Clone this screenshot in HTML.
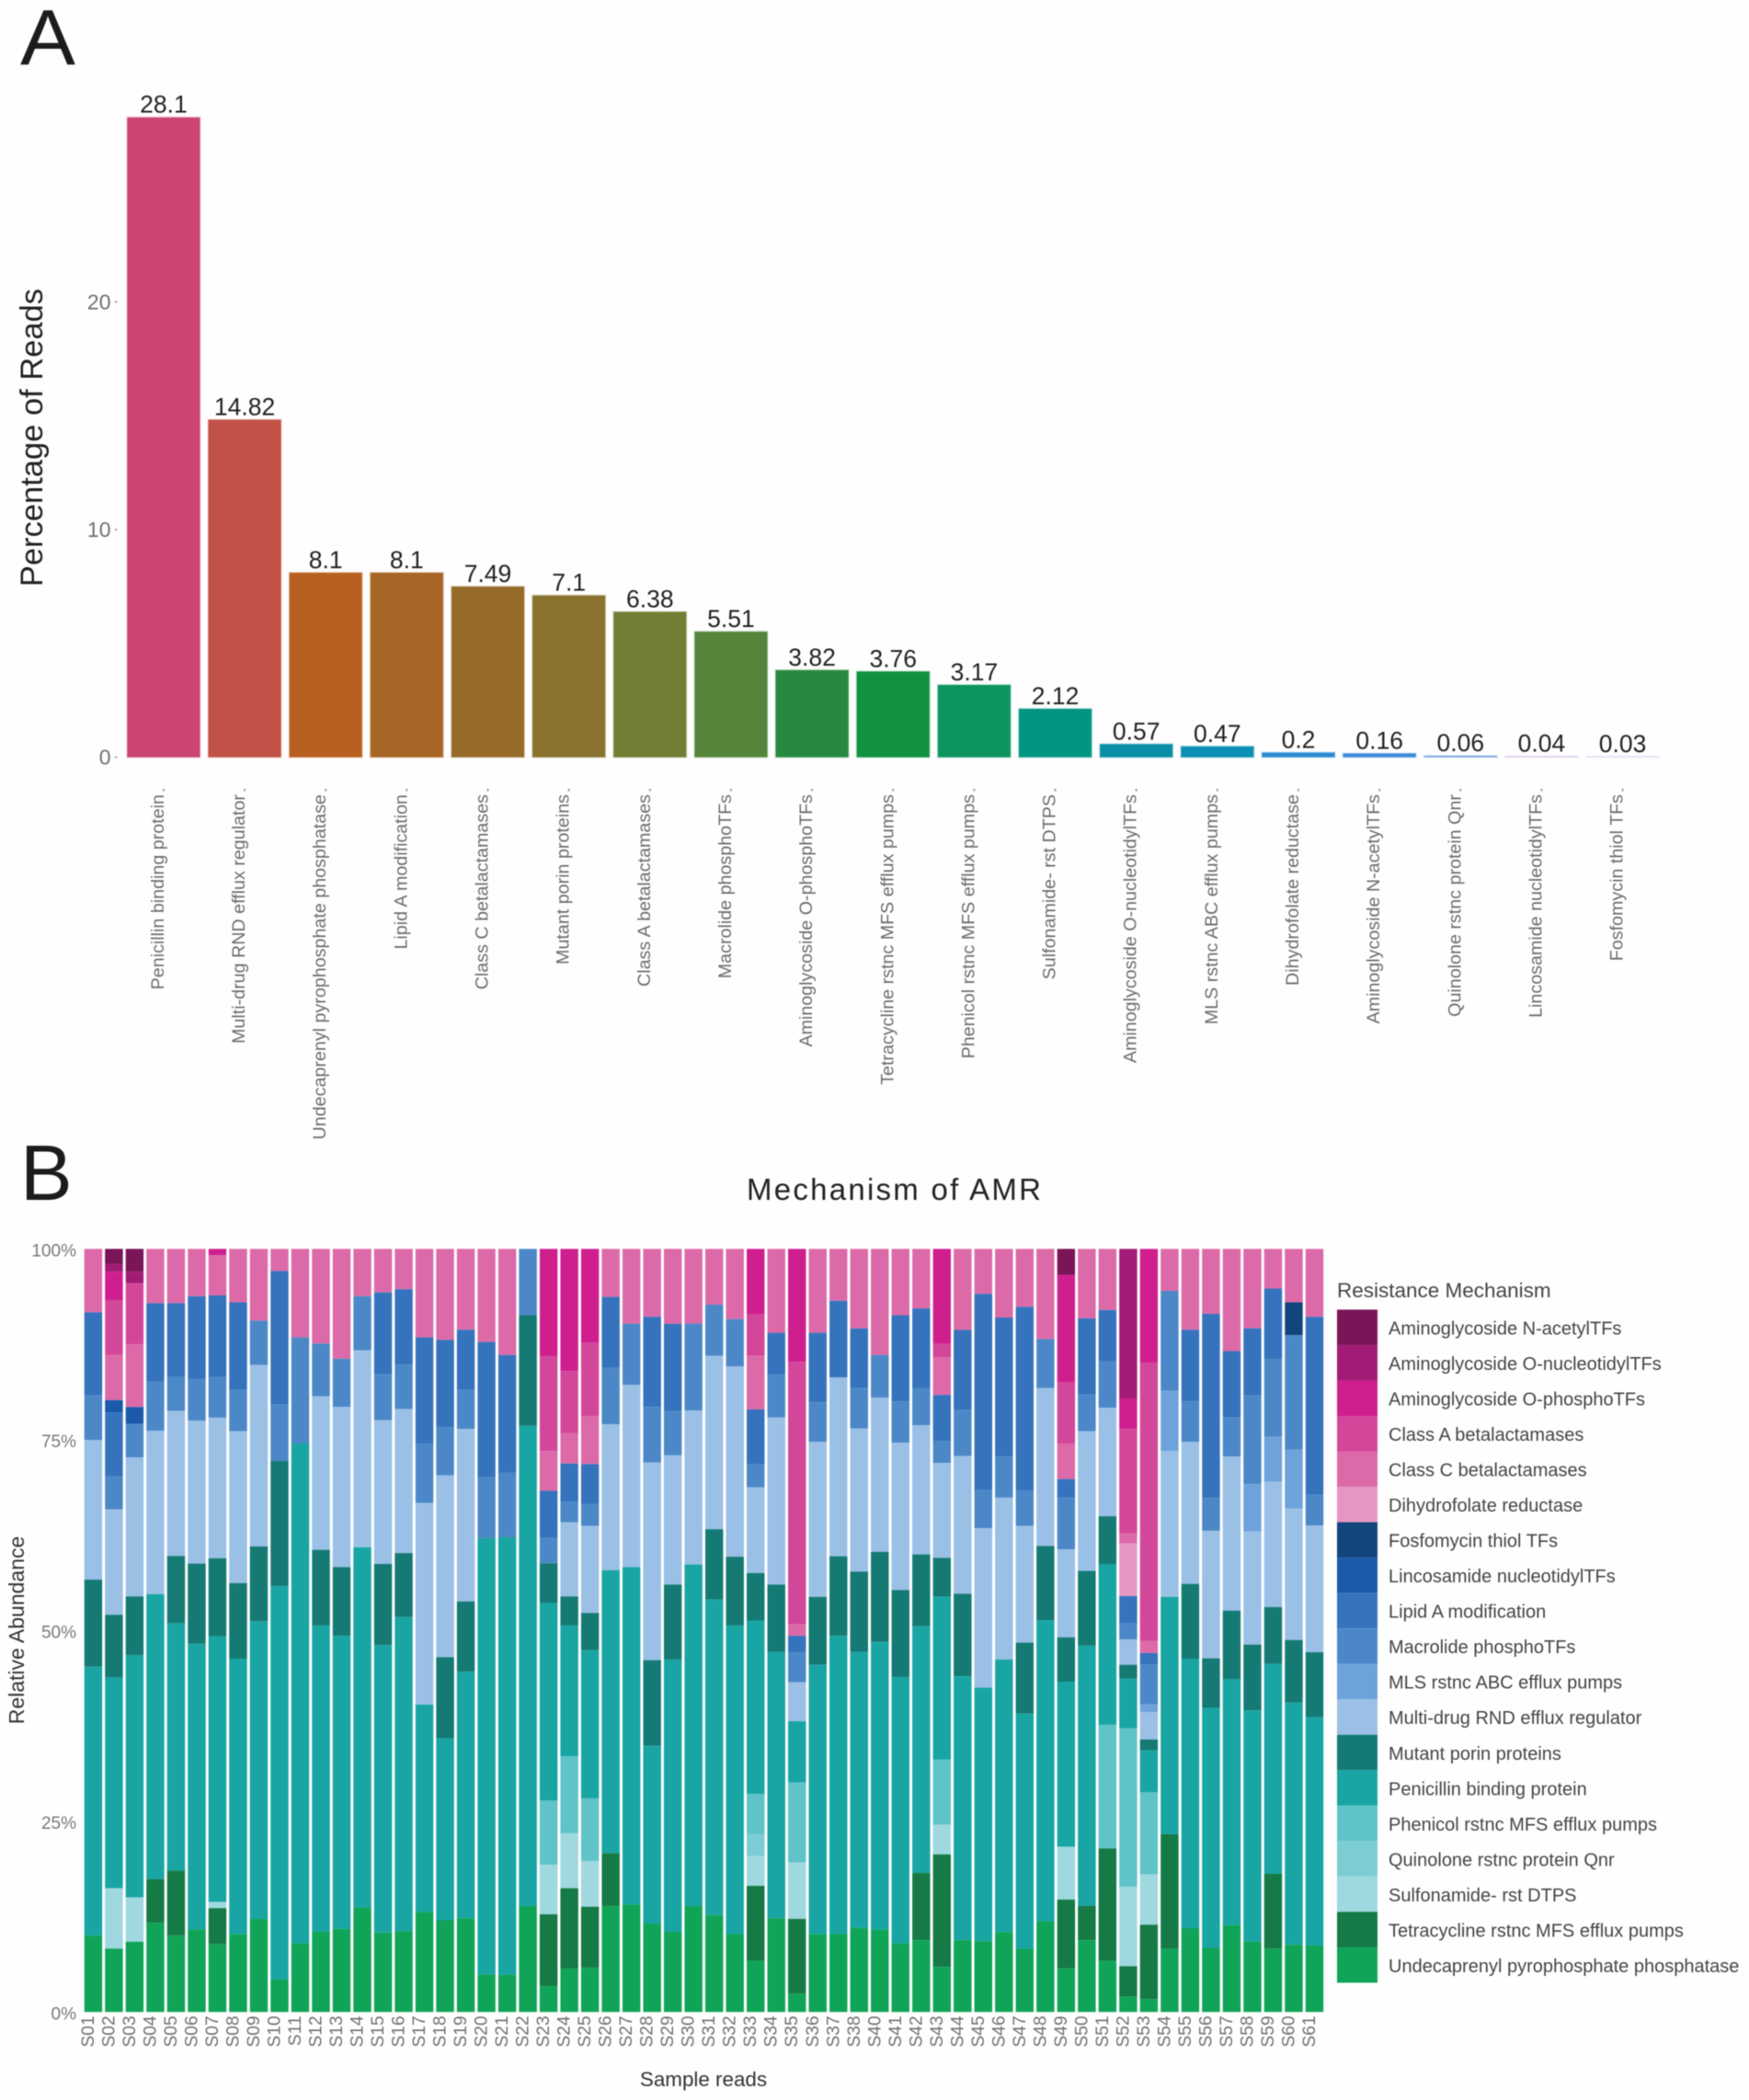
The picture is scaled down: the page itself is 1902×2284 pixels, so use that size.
<!DOCTYPE html>
<html lang="en">
<head>
<meta charset="utf-8">
<title>AMR mechanisms: read percentages and relative abundance</title>
<style>
  html, body { margin: 0; padding: 0; background: #fefefe; }
  body { width: 1902px; height: 2284px; overflow: hidden; }
  svg { display: block; font-family: "Liberation Sans", Arial, sans-serif; filter: blur(0.5px); }
</style>
</head>
<body>
<svg id="figure" xmlns="http://www.w3.org/2000/svg" width="1902" height="2284" viewBox="0 0 1902 2284">
  <rect x="0" y="0" width="1902" height="2284" fill="#fefefe"/>
  <text x="22" y="70" font-size="85" fill="#1c1c1c" textLength="60" lengthAdjust="spacingAndGlyphs">A</text>
  <text x="22" y="1305" font-size="85" fill="#1c1c1c">B</text>
  <text transform="translate(46,476) rotate(-90)" text-anchor="middle" font-size="34.5" fill="#222">Percentage of Reads</text>
  <text x="812" y="1305" font-size="33" fill="#222" textLength="320" lengthAdjust="spacing">Mechanism of AMR</text>
  <text transform="translate(26,1773) rotate(-90)" text-anchor="middle" font-size="23" fill="#333">Relative Abundance</text>
  <text x="765" y="2269" text-anchor="middle" font-size="22.4" fill="#333">Sample reads</text>
  <text x="1454" y="1411" font-size="22.5" fill="#444">Resistance Mechanism</text>
  <g id="panelA"></g>
  <g id="panelB"></g>
  <g id="legend"></g>
</svg>
<script>
// ---------- Panel A data ----------
const mechanismCategories = ["Penicillin binding protein","Multi-drug RND efflux regulator","Undecaprenyl pyrophosphate phosphatase","Lipid A modification","Class C betalactamases","Mutant porin proteins","Class A betalactamases","Macrolide phosphoTFs","Aminoglycoside O-phosphoTFs","Tetracycline rstnc MFS efflux pumps","Phenicol rstnc MFS efflux pumps","Sulfonamide- rst DTPS","Aminoglycoside O-nucleotidylTFs","MLS rstnc ABC efflux pumps","Dihydrofolate reductase","Aminoglycoside N-acetylTFs","Quinolone rstnc protein Qnr","Lincosamide nucleotidylTFs","Fosfomycin thiol TFs"];
const readPercentages = [28.1,14.82,8.1,8.1,7.49,7.1,6.38,5.51,3.82,3.76,3.17,2.12,0.57,0.47,0.2,0.16,0.06,0.04,0.03];
const barColors = ["#cb4570","#c25247","#b86022","#a86626","#966b2a","#89732e","#737d33","#55853a","#27883f","#11923f","#0d9560","#029582","#0a8ea5","#0a8fb5","#2b8bd0","#3b8ad5","#7aa5e0","#dcc8ee","#e3d0ee"];
const percentTicks = [0,10,20];

// ---------- Panel B data ----------
const sampleIds = ["S01","S02","S03","S04","S05","S06","S07","S08","S09","S10","S11","S12","S13","S14","S15","S16","S17","S18","S19","S20","S21","S22","S23","S24","S25","S26","S27","S28","S29","S30","S31","S32","S33","S34","S35","S36","S37","S38","S40","S41","S42","S43","S44","S45","S46","S47","S48","S49","S50","S51","S52","S53","S54","S55","S56","S57","S58","S59","S60","S61"];
const legendNames = ["Aminoglycoside N-acetylTFs","Aminoglycoside O-nucleotidylTFs","Aminoglycoside O-phosphoTFs","Class A betalactamases","Class C betalactamases","Dihydrofolate reductase","Fosfomycin thiol TFs","Lincosamide nucleotidylTFs","Lipid A modification","Macrolide phosphoTFs","MLS rstnc ABC efflux pumps","Multi-drug RND efflux regulator","Mutant porin proteins","Penicillin binding protein","Phenicol rstnc MFS efflux pumps","Quinolone rstnc protein Qnr","Sulfonamide- rst DTPS","Tetracycline rstnc MFS efflux pumps","Undecaprenyl pyrophosphate phosphatase"];
const legendColors = ["#7a1558","#a21b76","#cf1f8f","#d3479a","#dc6aa9","#e796c3","#12457c","#1a5aa8","#3573bd","#4c88c8","#6da2da","#9ac0e6","#157a74","#18a5a3","#5fc3c8","#7ccdd3","#9fd8df","#157a45","#10a458"];
const abundanceTicks = [0,25,50,75,100];

const aminoNAcetyl = [
0,2.0,3.0,0,0,0,0,0,0,0,
0,0,0,0,0,0,0,0,0,0,
0,0,0,0,0,0,0,0,0,0,
0,0,0,0,0,0,0,0,0,0,
0,0,0,0,0,0,0,3.4,0,0,
0,0,0,0,0,0,0,0,0,0];
const aminoONucleotidyl = [
0,1.0,1.5,0,0,0,0,0,0,0,
0,0,0,0,0,0,0,0,0,0,
0,0,0,0,0,0,0,0,0,0,
0,0,0,0,0,0,0,0,0,0,
0,0,0,0,0,0,0,0,0,0,
19.6,0,0,0,0,0,0,0,0,0];
const aminoOPhospho = [
0,3.7,0,0,0,0,0.8,0,0,0,
0,0,0,0,0,0,0,0,0,0,
0,0,14.0,16.0,12.3,0,0,0,0,0,
0,0,8.5,0,14.8,0,0,0,0,0,
0,12.4,0,0,0,0,0,14.0,0,0,
4.0,14.9,0,0,0,0,0,0,0,0];
const classABeta = [
0,7.2,8.0,0,0,0,0,0,0,0,
0,0,0,0,0,0,0,0,0,0,
0,0,12.5,8.1,9.6,0,0,0,0,0,
0,0,5.5,0,34.4,0,0,0,0,0,
0,1.8,0,0,0,0,0,8.1,0,0,
13.7,36.3,0,0,0,0,0,0,0,0];
const classCBeta = [
8.3,5.9,8.2,7.1,7.1,6.2,5.3,7.0,9.4,2.9,
11.6,12.4,14.4,6.2,5.7,5.3,11.6,11.9,10.6,12.2,
13.9,0,5.2,4.0,6.3,6.3,9.8,8.9,9.8,9.8,
7.3,9.2,7.0,11.0,1.5,11.0,6.8,10.4,13.9,8.7,
7.8,4.9,10.6,5.9,9.0,7.6,11.8,4.6,9.1,8.0,
1.3,1.6,5.5,10.6,8.5,13.4,10.4,5.2,7.0,8.9];
const dihydrofolate = [
0,0,0,0,0,0,0,0,0,0,
0,0,0,0,0,0,0,0,0,0,
0,0,0,0,0,0,0,0,0,0,
0,0,0,0,0,0,0,0,0,0,
0,0,0,0,0,0,0,0,0,0,
6.9,0,0,0,0,0,0,0,0,0];
const fosfomycin = [
0,0,0,0,0,0,0,0,0,0,
0,0,0,0,0,0,0,0,0,0,
0,0,0,0,0,0,0,0,0,0,
0,0,0,0,0,0,0,0,0,0,
0,0,0,0,0,0,0,0,0,0,
0,0,0,0,0,0,0,0,4.3,0];
const lincosamide = [
0,1.6,2.2,0,0,0,0,0,0,0,
0,0,0,0,0,0,0,0,0,0,
0,0,0,0,0,0,0,0,0,0,
0,0,0,0,0,0,0,0,0,0,
0,0,0,0,0,0,0,0,0,0,
0,0,0,0,0,0,0,0,0,0];
const lipidA = [
10.9,8.4,0,10.3,9.6,10.8,10.7,11.4,0,17.5,
0,0,0,0,10.7,9.9,13.9,11.4,7.9,17.7,
15.4,0,6.2,5.0,5.2,9.3,0,11.8,11.4,0,
0,0,7.1,5.5,2.2,9.1,10.0,7.8,0,11.3,
10.4,6.0,10.5,25.7,18.2,24.1,0,2.4,10.0,6.7,
3.5,1.5,0,9.4,24.1,8.7,8.8,9.2,0,23.3];
const macrolide = [
5.8,4.3,4.4,6.4,4.5,5.5,5.3,5.5,5.8,7.4,
13.9,6.9,6.3,7.1,6.0,5.8,7.8,6.3,5.1,8.0,
8.5,8.7,3.3,2.7,2.9,7.4,8.0,7.3,5.8,11.4,
6.7,6.2,3.1,5.6,3.9,5.2,0,5.3,5.6,5.4,
4.9,2.9,6.0,5.0,5.4,4.6,6.4,6.8,4.8,6.1,
2.2,5.2,13.1,5.3,4.3,5.1,11.6,10.2,15.0,4.0];
const mlsAbc = [
0,0,0,0,0,0,0,0,0,0,
0,0,0,0,0,0,0,0,0,0,
0,0,0,0,0,0,0,0,0,0,
0,0,0,0,0,0,0,0,0,0,
0,0,0,0,0,0,0,0,0,0,
0,1.0,7.9,0,0,0,6.2,5.9,7.7,0];
const multiDrug = [
18.3,13.8,18.2,21.4,19.0,18.7,18.4,19.9,23.8,0,
0,20.1,21.0,25.8,18.8,18.9,26.4,23.8,22.6,0,
0,0,0,9.7,11.4,19.1,23.9,25.9,16.9,20.2,
22.7,24.9,11.2,21.9,5.1,20.3,23.4,18.7,20.2,19.3,
16.9,12.4,18.0,20.9,21.2,15.3,20.7,11.5,18.3,14.2,
3.3,3.6,19.1,18.6,16.7,20.2,14.8,16.4,17.2,16.6];
const mutantPorin = [
11.4,8.2,7.7,0,8.8,10.5,10.2,9.9,9.8,16.4,
0,9.9,9.0,0,10.6,8.4,0,10.6,9.2,0,
0,14.5,5.2,3.8,4.9,0,0,11.2,9.8,0,
9.2,9.0,6.2,8.8,0,8.9,10.4,10.5,11.8,11.4,
9.4,5.1,10.8,0,0,9.3,9.7,5.8,9.8,6.3,
1.8,1.4,0,9.8,6.5,9.0,8.6,7.4,8.2,8.5];
const penicillinBinding = [
35.2,27.6,31.7,37.3,32.4,37.4,34.8,36.1,39.0,51.5,
65.5,40.1,38.4,47.2,37.6,41.2,27.2,23.8,32.3,57.2,
57.3,62.9,25.9,17.1,19.4,37.1,44.2,23.3,35.6,44.8,
41.3,40.4,22.7,34.9,8.0,35.3,39.0,36.1,37.7,34.9,
32.3,21.3,34.5,33.2,35.7,30.8,39.4,21.6,34.1,21.0,
6.5,5.5,31.1,35.3,31.4,32.2,30.3,27.5,31.7,29.9];
const phenicol = [
0,0,0,0,0,0,0,0,0,0,
0,0,0,0,0,0,0,0,0,0,
0,0,8.4,10.1,8.2,0,0,0,0,0,
0,0,5.3,0,10.5,0,0,0,0,0,
0,8.5,0,0,0,0,0,0,0,16.2,
20.8,10.7,0,0,0,0,0,0,0,0];
const quinolone = [
0,0,0,0,0,0,0,0,0,0,
0,0,0,0,0,0,0,0,0,0,
0,0,0,0,0,0,0,0,0,0,
0,0,2.8,0,0,0,0,0,0,0,
0,0,0,0,0,0,0,0,0,0,
0,0,0,0,0,0,0,0,0,0];
const sulfonamide = [
0,7.9,5.8,0,0,0,0.8,0,0,0,
0,0,0,0,0,0,0,0,0,0,
0,0,6.5,7.2,6.0,0,0,0,0,0,
0,0,3.9,0,7.4,0,0,0,0,0,
0,3.9,0,0,0,0,0,6.9,0,0,
10.4,6.6,0,0,0,0,0,0,0,0];
const tetracycline = [
0,0,0,5.7,8.5,0,4.7,0,0,0,
0,0,0,0,0,0,0,0,0,0,
0,0,9.4,10.5,8.0,6.9,0,0,0,0,
0,0,9.8,0,9.8,0,0,0,0,0,
8.8,14.7,0,0,0,0,0,9.0,4.5,14.7,
4.0,9.7,15.0,0,0,0,0,9.8,0,0];
const undecaprenyl = [
10.0,8.3,9.2,11.7,10.0,10.8,8.9,10.2,12.2,4.3,
9.0,10.5,10.9,13.7,10.4,10.6,13.1,12.0,12.3,4.9,
4.9,13.9,3.4,5.7,5.8,13.9,14.1,11.6,10.5,13.9,
12.7,10.2,6.7,12.3,2.4,10.2,10.2,11.0,10.8,9.0,
9.4,5.9,9.4,9.3,10.5,8.3,11.9,5.7,9.4,6.7,
2.0,1.7,8.3,11.0,8.4,11.4,9.2,8.3,8.8,8.7];
const stackedSeries = [aminoNAcetyl,aminoONucleotidyl,aminoOPhospho,classABeta,classCBeta,dihydrofolate,fosfomycin,lincosamide,lipidA,macrolide,mlsAbc,multiDrug,mutantPorin,penicillinBinding,phenicol,quinolone,sulfonamide,tetracycline,undecaprenyl];

// ---------- Axis functions ----------
const NS = "http://www.w3.org/2000/svg";
function xA(i) { return 138.4 + 88.15 * i; }
const barWidthA = 79;
function yA(v) { return 823.5 - 24.76 * v; }
function xB(i) { return 91.7 + 22.51 * i; }
const barWidthB = 19.4;
function yB(p) { return 2188.3 - 8.3 * p; }
function make(tag, geometry, parent, textValue) {
  const el = document.createElementNS(NS, tag);
  for (const key in geometry) el.setAttribute(key, geometry[key]);
  if (textValue !== undefined) el.textContent = textValue;
  parent.appendChild(el);
  return el;
}

// ---------- Panel A ----------
const panelA = document.getElementById("panelA");
percentTicks.forEach(function (t) {
  const label = make("text", {x: 120.5, y: yA(t) + 8, "text-anchor": "end", "font-size": 23, fill: "#707070"}, panelA, String(t));
  
  
  const tick = make("rect", {x: 124.5, y: yA(t) - 0.75, width: 3, height: 1.5, fill: "#999"}, panelA);
  
  
});
readPercentages.forEach(function (v, i) {
  const bar = make("rect", {x: xA(i), y: yA(v), width: barWidthA, height: yA(0) - yA(v), fill: barColors[i], stroke: barColors[i], "stroke-opacity": 0.3, "stroke-width": 2}, panelA);
  
  
  const value = make("text", {x: xA(i) + barWidthA / 2, y: yA(v) - 5, "text-anchor": "middle", "font-size": 26.5, fill: "#222"}, panelA, String(v));
  
  
  const tick = make("rect", {x: xA(i) + barWidthA / 2 - 1, y: 858, width: 2, height: 2.5, fill: "#999"}, panelA);
  
  
  const cat = make("text", {transform: "translate(" + (xA(i) + barWidthA / 2) + ",864) rotate(-90)", "text-anchor": "end", "font-size": 19.7, fill: "#6c6c6c"}, panelA, mechanismCategories[i]);
  
  
});

// ---------- Panel B ----------
const panelB = document.getElementById("panelB");
abundanceTicks.forEach(function (t) {
  const label = make("text", {x: 83, y: yB(t) + 8, "text-anchor": "end", "font-size": 19, fill: "#787878"}, panelB, t + "%");
  
  
});
sampleIds.forEach(function (id, i) {
  let total = 0;
  stackedSeries.forEach(function (s) { total += s[i]; });
  let running = 100;
  stackedSeries.forEach(function (s, k) {
    const v = s[i];
    if (v <= 0) return;
    const share = v / total * 100;
    const seg = make("rect", {x: xB(i), y: yB(running), width: barWidthB, height: yB(running - share) - yB(running), fill: legendColors[k]}, panelB);
    
    
    running -= share;
  });
  const label = make("text", {transform: "translate(" + (xB(i) + barWidthB / 2 + 0.5) + ",2192.5) rotate(-90)", "text-anchor": "end", "font-size": 19.2, fill: "#707070"}, panelB, id);
  
  
});

// ---------- Legend ----------
const legend = document.getElementById("legend");
legendNames.forEach(function (name, i) {
  const top = 1424.4 + 38.53 * i;
  const swatch = make("rect", {x: 1454, y: top, width: 44, height: 38.53, fill: legendColors[i]}, legend);
  
  
  const label = make("text", {x: 1510, y: top + 27, "font-size": 20, fill: "#444"}, legend, name);
  
  
});
</script>
</body>
</html>
